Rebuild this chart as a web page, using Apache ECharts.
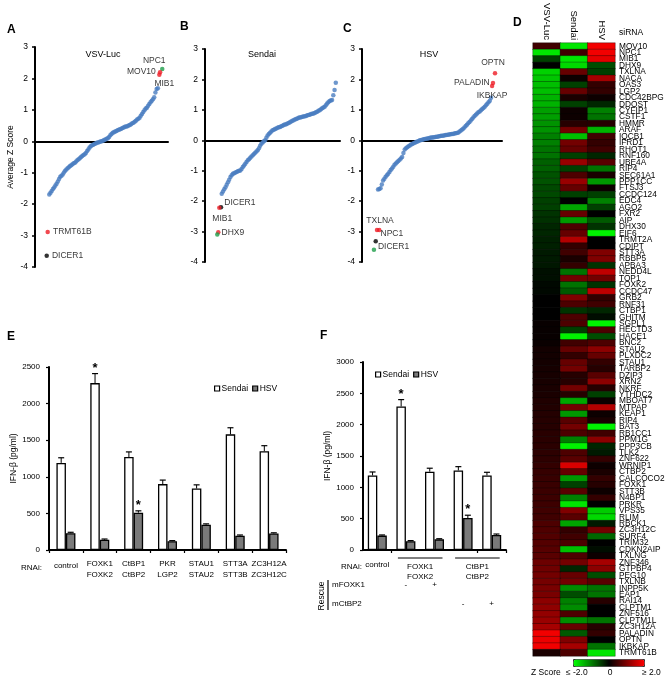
<!DOCTYPE html>
<html><head><meta charset="utf-8">
<script src="https://cdn.jsdelivr.net/npm/echarts@6/dist/echarts.min.js"></script>
<style>html,body{margin:0;padding:0;background:#fff}#c{width:667px;height:683px}</style>
</head><body><div id="c"></div>
<script>
// ---------- DATA ----------
// Panels A-C: sorted average Z scores (blue points)
const vsvSorted = [-1.69,-1.64,-1.58,-1.52,-1.47,-1.41,-1.35,-1.28,-1.20,-1.13,-1.10,-1.06,-0.99,-0.94,-0.90,-0.86,-0.83,-0.79,-0.76,-0.73,-0.70,-0.68,-0.64,-0.60,-0.57,-0.54,-0.50,-0.47,-0.44,-0.41,-0.37,-0.31,-0.26,-0.20,-0.16,-0.13,-0.11,-0.09,-0.07,-0.05,-0.04,-0.02,-0.01,0.00,0.02,0.04,0.06,0.08,0.10,0.14,0.19,0.23,0.27,0.29,0.31,0.33,0.35,0.37,0.38,0.40,0.42,0.44,0.46,0.47,0.48,0.50,0.52,0.54,0.57,0.59,0.62,0.65,0.69,0.72,0.75,0.81,0.87,0.93,0.99,1.04,1.07,1.13,1.19,1.24,1.29,1.34,1.40,1.55,1.66,1.69];
const sendaiSorted = [-1.76,-1.68,-1.61,-1.54,-1.46,-1.38,-1.30,-1.21,-1.15,-1.10,-1.08,-1.06,-1.04,-1.02,-1.00,-0.99,-0.94,-0.88,-0.83,-0.77,-0.71,-0.66,-0.62,-0.57,-0.53,-0.49,-0.45,-0.41,-0.37,-0.33,-0.26,-0.18,-0.11,-0.07,-0.03,0.00,0.08,0.16,0.21,0.25,0.29,0.33,0.35,0.37,0.39,0.41,0.43,0.44,0.46,0.48,0.50,0.52,0.53,0.55,0.57,0.59,0.62,0.64,0.66,0.68,0.70,0.72,0.74,0.75,0.76,0.77,0.78,0.79,0.80,0.82,0.83,0.84,0.86,0.87,0.88,0.90,0.92,0.94,0.97,0.99,1.02,1.05,1.08,1.10,1.15,1.21,1.25,1.29,1.31,1.32,1.48,1.65,1.89];
const hsvSorted = [-1.62,-1.60,-1.58,-1.45,-1.32,-1.26,-1.20,-1.15,-1.10,-1.04,-0.98,-0.93,-0.87,-0.80,-0.76,-0.72,-0.68,-0.64,-0.60,-0.55,-0.42,-0.30,-0.26,-0.23,-0.20,-0.17,-0.14,-0.12,-0.10,-0.08,-0.06,-0.04,-0.02,0.00,0.01,0.02,0.03,0.04,0.05,0.06,0.07,0.08,0.09,0.09,0.10,0.11,0.12,0.12,0.13,0.14,0.15,0.15,0.16,0.17,0.17,0.18,0.19,0.20,0.21,0.21,0.22,0.23,0.24,0.25,0.28,0.31,0.35,0.38,0.42,0.47,0.51,0.56,0.60,0.65,0.70,0.75,0.80,0.84,0.88,0.92,0.95,0.99,1.03,1.06,1.10,1.15,1.20,1.25,1.30,1.40];

// highlighted genes: name, rank position, z, group
const vsvHits = [
  {name:'NPC1', rank:92.6, z:2.30, group:'green'},
  {name:'MOV10', rank:90.8, z:2.20, group:'red'},
  {name:'MIB1', rank:90.2, z:2.12, group:'red'},
  {name:'TRMT61B', rank:-1.3, z:-2.89, group:'red'},
  {name:'DICER1', rank:-2.1, z:-3.64, group:'black'}
];
const sendaiHits = [
  {name:'DICER1', rank:-0.6, z:-2.20, group:'black'},
  {name:'MIB1', rank:-1.97, z:-2.22, group:'red'},
  {name:'DHX9', rank:-2.8, z:-3.02, group:'red'},
  {name:'', rank:-3.6, z:-3.10, group:'green'}
];
const hsvHits = [
  {name:'OPTN', rank:92.1, z:2.20, group:'red'},
  {name:'PALADIN', rank:90.5, z:1.88, group:'red'},
  {name:'IKBKAP', rank:89.8, z:1.78, group:'red'},
  {name:'TXLNA', rank:-0.8, z:-2.95, group:'red'},
  {name:'NPC1', rank:1.0, z:-2.95, group:'red'},
  {name:'DICER1', rank:-1.8, z:-3.32, group:'black'},
  {name:'', rank:-3.2, z:-3.60, group:'green'}
];
const scatterTitles = ['VSV-Luc','Sendai','HSV'];
const zTicks = [-4,-3,-2,-1,0,1,2,3];

// Panel D: heatmap
const heatColumns = ['VSV-Luc','Sendai','HSV'];
const genes = ['MOV10','NPC1','MIB1','DHX9','TXLNA','NACA','OAS3','LGP2','CDC42BPG','DDOST','CYFIP1','CSTF1','HMMR','ARAF','IQCB1','IFRD1','RHOT1','RNF160','UBE4A','RIP4','SEC61A1','PPP1CC','FTSJ3','CCDC124','EDC4','AGO2','FXR2','AIP','DHX30','EIF6','TRMT2A','CDIPT','STT3A','RBBP5','APBA3','NEDD4L','TOP1','FOXK2','CCDC47','GRB2','RNF31','CTBP1','GHITM','SGPL1','HECTD3','HACE1','BNC2','STAU2','PLXDC2','STAU1','TARBP2','DZIP3','XRN2','NKRF','YTHDC2','MBOAT7','MTPAP','KEAP1','RIP4','BAT3','RB1CC1','PPM1G','PPP3CB','TLK2','ZNF622','WRNIP1','CTBP2','CALCOCO2','FOXK1','STT3B','N4BP1','PRKR','VPS35','RLIM','RBCK1','ZC3H12C','SURF4','TRIM32','CDKN2AIP','TXLNG','ZNF346','GTPBP4','PEG10','TXLNB','INPP5K','EAP1','RAI14','CLPTM1','ZNF516','CLPTM1L','ZC3H12A','PALADIN','OPTN','IKBKAP','TRMT61B'];
const vsvZ = [0.5,-1.8,-0.5,0,-1.65,-1.55,-1.5,-1.5,-1.4,-1.4,-1.25,-1.25,-1.15,-1.15,-1.0,-1.0,-0.9,-0.9,-0.75,-0.75,-0.65,-0.65,-0.57,-0.57,-0.5,-0.5,-0.4,-0.38,-0.3,-0.3,-0.25,-0.25,-0.2,-0.2,-0.18,-0.12,-0.12,-0.06,-0.06,0,0,0,0,0.06,0.06,0.06,0.08,0.15,0.15,0.16,0.17,0.18,0.19,0.2,0.2,0.25,0.26,0.28,0.3,0.3,0.32,0.33,0.34,0.35,0.36,0.4,0.42,0.44,0.45,0.46,0.47,0.48,0.5,0.5,0.6,0.62,0.64,0.66,0.68,0.7,0.85,0.87,0.9,0.92,0.95,0.95,1.1,1.12,1.15,1.2,1.3,1.9,1.85,1.9,0.2];
const sendaiZ = [-1.8,0.5,-1.8,-1.7,0.8,0.1,-0.5,0.8,0.2,-0.5,0.1,0.1,0.3,0.9,-1.5,0.9,0.8,-0.5,1.2,-0.5,0.6,1.2,0.8,-0.5,0.0,-1.3,0.8,-1.2,0.6,0.8,1.4,0.4,0.5,0.2,0.4,-0.9,0.9,-0.9,-0.7,1.0,0.6,-0.4,0.6,0.6,-0.5,-1.9,0.5,0.8,0.4,0.8,0.9,0.3,0.3,0.9,0.3,-1.3,0.9,-1.2,0.7,0.9,0.6,-1.0,-1.9,0.6,0.7,1.7,0.8,-1.2,-0.5,0.7,-1.0,-1.8,1.0,0.7,-1.3,0.4,0.5,0.6,-1.5,0.6,0.9,-0.3,0.8,0.9,-1.1,-0.6,-1.0,-1.1,0.6,-1.1,0.8,-0.7,1.0,1.3,0.6];
const hsvZ = [1.9,1.9,1.8,-0.6,-0.5,1.3,0.4,0.4,0.1,-0.3,-1.0,-0.9,0.3,-1.4,0.5,0.4,0.5,-0.3,0.7,-0.9,0.2,-1.2,0.1,-0.5,-1.0,-0.5,0.0,-0.7,-0.4,-1.9,0.0,0.0,1.0,1.0,-0.4,1.5,0.9,-0.4,1.5,0.4,0.5,-0.3,-0.1,-1.9,0.6,-0.6,0.6,1.1,0.8,0.4,0.3,0.7,1.1,0.3,-0.5,0.1,1.4,0.1,0.2,-1.9,0.5,1.1,-0.3,-0.2,0.4,0.1,0.2,0.4,0.3,0.1,0.4,0.0,-1.6,-1.7,-0.2,0.9,-0.8,0.0,-0.1,0.1,1.3,1.1,-0.6,0.7,-0.9,-0.9,0.3,0.0,0.0,-0.9,0.3,0.4,0.0,-0.9,-1.8];
const colorbarLabels = ['≤ -2.0','0','≥ 2.0'];

// Panel E
const eCategories = ['control','FOXK1\nFOXK2','CtBP1\nCtBP2','PKR\nLGP2','STAU1\nSTAU2','STT3A\nSTT3B','ZC3H12A\nZC3H12C'];
const eSendai = [1190,2280,1270,900,840,1580,1350];
const eSendaiErr = [70,130,70,55,50,90,75];
const eSendaiStar = [0,1,0,0,0,0,0];
const eHSV = [230,140,510,120,345,195,225];
const eHSVErr = [12,10,25,8,12,10,10];
const eHSVStar = [0,0,1,0,0,0,0];

// Panel F
const fCategories = ['control','FOXK1/FOXK2 -','FOXK1/FOXK2 +','CtBP1/CtBP2 -','CtBP1/CtBP2 +'];
const fSendai = [1190,2290,1250,1270,1190];
const fSendaiErr = [55,110,55,60,50];
const fSendaiStar = [0,1,0,0,0];
const fHSV = [230,140,170,510,240];
const fHSVErr = [10,10,10,45,15];
const fHSVStar = [0,0,0,1,0];
const fGroups = [{text:'FOXK1\nFOXK2', from:1, to:2},{text:'CtBP1\nCtBP2', from:3, to:4}];
const fRescueFOXK1 = ['','-','+','',''];
const fRescueCtBP2 = ['','','','-','+'];

// ---------- STYLE ----------
const FONT = "'Liberation Sans', Arial, sans-serif";
const hitColors = {red:'#ee1c24', green:'#1e9e4a', black:'#000000'};
const BLUE = '#4a7dc0';
const labelStyles = [
  {NPC1:{position:'top', offset:[-8,3]}, MOV10:{position:'left', distance:2}, MIB1:{position:'bottom', offset:[5,-3]}, TRMT61B:{position:'right', distance:3}, DICER1:{position:'right', distance:3}},
  {DICER1:{position:'right', offset:[-1,-5], distance:2}, MIB1:{position:'bottom', offset:[3,-1]}, DHX9:{position:'right', distance:1}},
  {OPTN:{position:'top', offset:[-2,1]}, PALADIN:{position:'left', distance:1}, IKBKAP:{position:'bottom', offset:[0,-2]}, TXLNA:{position:'top', offset:[3,2]}, NPC1:{position:'right', offset:[-2,4], distance:1}, DICER1:{position:'right', offset:[-1,5], distance:1}}
];
const scatterGrids = [
  {left:35, top:47, width:133, height:220, xmin:-11.7, xmax:97.3},
  {left:205, top:49, width:135, height:213, xmin:-13.5, xmax:95.4},
  {left:362, top:49, width:140, height:213, xmin:-12.6, xmax:97.6}
];

const grids = [], xAxes = [], yAxes = [], series = [];
const sortedSets = [vsvSorted, sendaiSorted, hsvSorted];
const hitSets = [vsvHits, sendaiHits, hsvHits];
scatterGrids.forEach((g, k) => {
  grids.push({left:g.left, top:g.top, width:g.width, height:g.height, outerBoundsMode:'none'});
  xAxes.push({gridIndex:k, type:'value', min:g.xmin, max:g.xmax,
    axisLine:{show:true, onZero:true, lineStyle:{color:'#000', width:2}},
    axisTick:{show:false}, axisLabel:{show:false}, splitLine:{show:false}});
  yAxes.push({gridIndex:k, type:'value', min:zTicks[0], max:zTicks[zTicks.length-1], interval:1,
    axisLine:{show:true, onZero:false, lineStyle:{color:'#000', width:2}},
    axisTick:{show:true, length:3, lineStyle:{color:'#000', width:1.5}},
    axisLabel:{fontSize:8.5, color:'#000', margin:7, fontFamily:FONT},
    splitLine:{show:false},
    name: k===0 ? 'Average Z Score' : '', nameLocation:'middle', nameGap:20,
    nameTextStyle:{fontSize:8.5, color:'#000', fontFamily:FONT}});
  series.push({type:'scatter', xAxisIndex:k, yAxisIndex:k, symbolSize:4.5, silent:true,
    itemStyle:{color:BLUE}, data: sortedSets[k].map((z,i)=>[i,z])});
  series.push({type:'scatter', xAxisIndex:k, yAxisIndex:k, symbolSize:4.5, silent:true, z:3,
    data: hitSets[k].map(h => {
      const ls = labelStyles[k][h.name];
      return {value:[h.rank, h.z], name:h.name, itemStyle:{color:hitColors[h.group]},
        label: ls ? Object.assign({show:true, formatter:h.name, fontSize:8.5, color:'#000', fontFamily:FONT}, ls) : {show:false}};
    })});
});

// Heatmap grid (index 3)
grids.push({left:533, top:43, width:82, height:613, outerBoundsMode:'none'});
xAxes.push({gridIndex:3, type:'category', data:heatColumns, position:'top',
  axisLine:{show:false}, axisTick:{show:false}, splitLine:{show:false},
  axisLabel:{rotate:90, fontSize:9.5, color:'#000', margin:3, interval:0, fontFamily:FONT}});
yAxes.push({gridIndex:3, type:'category', data:genes, position:'right', inverse:true,
  axisLine:{show:false}, axisTick:{show:false}, splitLine:{show:false},
  axisLabel:{fontSize:8.3, color:'#000', margin:4, interval:0, hideOverlap:false, fontFamily:FONT}});
const heatData = [];
genes.forEach((g, r) => {
  heatData.push([0, r, vsvZ[r]]);
  heatData.push([1, r, sendaiZ[r]]);
  heatData.push([2, r, hsvZ[r]]);
});
const heatSeriesIndex = series.length;
series.push({type:'heatmap', xAxisIndex:3, yAxisIndex:3, data:heatData, silent:true,
  itemStyle:{borderColor:'rgba(0,0,0,0.55)', borderWidth:0.6}});

// Bar panels
function errRender(offset){
  return function(params, api){
    const x = api.value(0), v = api.value(1), e = api.value(2), star = api.value(3);
    const b = api.coord([x, v]); const t = api.coord([x, v + e]);
    const cx = b[0] + offset;
    const ch = [
      {type:'line', shape:{x1:cx, y1:b[1], x2:cx, y2:t[1]}, style:{stroke:'#000', lineWidth:1}},
      {type:'line', shape:{x1:cx-3, y1:t[1], x2:cx+3, y2:t[1]}, style:{stroke:'#000', lineWidth:1.2}}
    ];
    if (star) ch.push({type:'text', style:{text:'*', x:cx, y:t[1]+1, align:'center', verticalAlign:'bottom', font:'bold 13px ' + FONT, fill:'#000'}});
    return {type:'group', children:ch};
  };
}
const BW = 9.5;
function barPanel(gi, cats, sen, senE, senS, hsv, hsvE, hsvS, grid, ymax, isE){
  grids.push(Object.assign({outerBoundsMode:'none'}, grid));
  xAxes.push({gridIndex:gi, type:'category', data:cats,
    axisLine:{show:true, lineStyle:{color:'#000', width:2}},
    axisTick:{show:true, length:3, lineStyle:{color:'#000', width:1.2}, interval: isE ? 0 : function(i){return i===1||i===4;}},
    splitLine:{show:false},
    axisLabel: isE ? {interval:0, fontSize:8, lineHeight:11, color:'#000', margin:8, fontFamily:FONT,
        formatter: v => v.indexOf('\n') < 0 ? '{c|' + v + '}' : v, rich:{c:{fontSize:8, padding:[5,0,0,0], color:'#000', fontFamily:FONT}}}
      : {interval:0, fontSize:8, color:'#000', margin:11, fontFamily:FONT, formatter: v => v === 'control' ? v : ''}
  });
  yAxes.push({gridIndex:gi, type:'value', min:0, max:ymax, interval:500,
    axisLine:{show:true, lineStyle:{color:'#000', width:2}},
    axisTick:{show:true, length:3, lineStyle:{color:'#000', width:1.2}},
    axisLabel:{fontSize:8, color:'#000', margin:9, fontFamily:FONT, formatter: v => String(v)},
    splitLine:{show:false},
    name:'IFN-β (pg/ml)', nameLocation:'middle', nameGap: isE ? 29 : 31,
    nameTextStyle:{fontSize:8.5, color:'#000', fontFamily:FONT}});
  series.push({type:'bar', name:'Sendai', xAxisIndex:gi, yAxisIndex:gi, barWidth:BW, barGap:'0%', silent:true,
    itemStyle:{color:'#ffffff', borderColor:'#000', borderWidth:1.3}, data:sen});
  series.push({type:'bar', name:'HSV', xAxisIndex:gi, yAxisIndex:gi, barWidth:BW, barGap:'0%', silent:true,
    itemStyle:{color:'#7a7a7a', borderColor:'#000', borderWidth:1.3}, data:hsv});
  series.push({type:'custom', name:'errS'+gi, xAxisIndex:gi, yAxisIndex:gi, silent:true, renderItem:errRender(-BW/2),
    data: sen.map((v,i)=>[i, v, senE[i], senS[i]]), z:5});
  series.push({type:'custom', name:'errH'+gi, xAxisIndex:gi, yAxisIndex:gi, silent:true, renderItem:errRender(BW/2),
    data: hsv.map((v,i)=>[i, v, hsvE[i], hsvS[i]]), z:5});
}
barPanel(4, eCategories, eSendai, eSendaiErr, eSendaiStar, eHSV, eHSVErr, eHSVStar, {left:49, top:367, width:237, height:183}, 2500, true);
barPanel(5, fCategories, fSendai, fSendaiErr, fSendaiStar, fHSV, fHSVErr, fHSVStar, {left:363, top:362, width:143, height:188}, 3000, false);

const legendData = [
  {name:'Sendai', itemStyle:{color:'#fff', borderColor:'#000', borderWidth:1.2}},
  {name:'HSV', itemStyle:{color:'#7a7a7a', borderColor:'#000', borderWidth:1.2}}
];
const legendCommon = {orient:'horizontal', itemWidth:5, itemHeight:5, itemGap:4, padding:0, icon:'rect', selectedMode:false,
  textStyle:{fontSize:8.5, color:'#000', fontFamily:FONT, padding:[0,0,0,-3]}, data:legendData};

function txt(id, text, x, y, size, opts){
  return Object.assign({type:'text', id, x, y, silent:true,
    style:Object.assign({text, font:size + 'px ' + FONT, fill:'#000', align:'left', verticalAlign:'middle'}, (opts||{}).style||{})},
    (opts||{}).el||{});
}
const graphics = [
  txt('lA','A',7,30,12,{style:{font:'bold 12px ' + FONT}}),
  txt('lB','B',180,27,12,{style:{font:'bold 12px ' + FONT}}),
  txt('lC','C',343,29,12,{style:{font:'bold 12px ' + FONT}}),
  txt('lD','D',513,23,12,{style:{font:'bold 12px ' + FONT}}),
  txt('lE','E',7,337,12,{style:{font:'bold 12px ' + FONT}}),
  txt('lF','F',320,336,12,{style:{font:'bold 12px ' + FONT}}),
  txt('tA',scatterTitles[0],103,55,9,{style:{align:'center'}}),
  txt('tB',scatterTitles[1],262,55,9,{style:{align:'center'}}),
  txt('tC',scatterTitles[2],429,55,9,{style:{align:'center'}}),
  txt('siRNA','siRNA',619,33,8.5),
  txt('zs','Z Score',531,673,8.5),
  txt('zl',colorbarLabels[0],566,673,8.5),
  txt('z0',colorbarLabels[1],610,673,8.5,{style:{align:'center'}}),
  txt('zh',colorbarLabels[2],642,673,8.5),
  txt('rE','RNAi:',21,568,8),
  txt('rF','RNAi:',341,567,8),
  txt('resc','Rescue',322,596,8.5,{style:{align:'center'}, el:{rotation:Math.PI/2}}),
  {type:'line', id:'rescLine', silent:true, shape:{x1:328,y1:580,x2:328,y2:610}, style:{stroke:'#000', lineWidth:1.2}},
  txt('mF','mFOXK1',332,585,8),
  txt('mC','mCtBP2',332,604,8)
];

const chart = echarts.init(document.getElementById('c'), null, {renderer:'canvas'});
chart.setOption({
  animation:false,
  backgroundColor:'#fff',
  textStyle:{fontFamily:FONT},
  grid:grids, xAxis:xAxes, yAxis:yAxes, series:series,
  legend:[Object.assign({left:214, top:384}, legendCommon), Object.assign({left:375, top:370}, legendCommon)],
  visualMap:{type:'continuous', min:-2, max:2, seriesIndex:heatSeriesIndex, dimension:2, orient:'horizontal',
    left:573, top:659, itemWidth:7, itemHeight:71, padding:0, calculable:false, hoverLink:false,
    borderColor:'#333', borderWidth:1, text:null, showLabel:false,
    inRange:{color:['#00ff00','#000000','#ff0000']}},
  graphic:{elements:graphics}
});

// F panel group labels placed at category positions
const extra = [];
const cx = i => chart.convertToPixel({xAxisIndex:5}, i);
fGroups.forEach((g, k) => {
  const a = cx(g.from), b = cx(g.to);
  extra.push({type:'line', id:'gl'+k, silent:true, shape:{x1:a-8, y1:558, x2:b+8, y2:558}, style:{stroke:'#000', lineWidth:1}});
  extra.push({type:'text', id:'gt'+k, silent:true, x:(a+b)/2, y:562,
    style:{text:g.text, font:'8px ' + FONT, fill:'#000', align:'center', verticalAlign:'top', lineHeight:10}});
});
fCategories.forEach((c, i) => {
  const x = cx(i);
  if (fRescueFOXK1[i]) extra.push({type:'text', id:'rf'+i, silent:true, x:x, y:585, style:{text:fRescueFOXK1[i], font:'8px ' + FONT, fill:'#000', align:'center', verticalAlign:'middle'}});
  if (fRescueCtBP2[i]) extra.push({type:'text', id:'rc'+i, silent:true, x:x, y:604, style:{text:fRescueCtBP2[i], font:'8px ' + FONT, fill:'#000', align:'center', verticalAlign:'middle'}});
});
chart.setOption({graphic:{elements:extra}});
</script></body></html>
